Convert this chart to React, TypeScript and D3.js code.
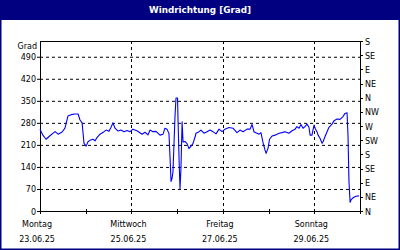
import React from "react";
import * as d3 from "d3";

const TITLE = "Windrichtung [Grad]";
const START = new Date(2025, 5, 23, 0, 0);
const END = new Date(2025, 5, 30, 0, 0);

// hours since 23.06.25 00:00
const hours = [
  0, 1.6, 3.2, 5.2, 7.9, 9.5, 11.6, 13.1, 14.7, 16.3, 18.4, 20.0, 21.0, 22.1, 23.1, 24.2,
  25.2, 26.3, 27.8, 28.9, 29.9, 31.5, 33.6, 34.7, 36.2, 37.3, 38.3, 39.4, 41.0, 42.5, 44.1,
  45.7, 47.3, 48.8, 50.9, 53.6, 55.1, 56.7, 57.8, 59.3, 60.9, 63.0, 64.6, 65.6, 66.7, 67.2,
  67.7, 68.3, 68.8, 69.3, 69.8, 70.9, 71.4, 72.2, 72.5, 73.0, 73.5, 74.0, 74.6, 75.1, 76.1,
  77.2, 78.2, 79.3, 80.3, 81.4, 81.9, 83.5, 84.5, 86.1, 87.7, 89.3, 90.8, 92.4, 94.0, 95.6,
  97.1, 99.2, 101.3, 103.4, 105.0, 106.6, 108.7, 110.3, 111.3, 112.4, 113.9, 115.0, 116.0,
  117.1, 118.1, 118.7, 119.7, 120.5, 121.8, 123.4, 125.5, 127.1, 128.6, 130.7, 132.3, 133.9,
  134.9, 136.0, 137.0, 138.1, 139.1, 140.2, 141.2, 141.8, 142.8, 143.3, 143.9, 144.4, 145.4,
  146.0, 147.0, 148.1, 148.6, 149.6, 150.7, 151.7, 153.3, 154.4, 155.9, 157.5, 159.1, 160.1,
  161.2, 161.7, 162.2, 162.8, 163.3, 164.3, 165.9, 167.5,
];
const direction = [
  260, 240, 228, 239, 252, 244, 251, 263, 302, 306, 308, 308, 289, 280, 215, 206,
  220, 225, 228, 223, 233, 244, 252, 257, 253, 266, 280, 263, 254, 257, 252,
  256, 252, 260, 255, 244, 250, 242, 257, 252, 253, 241, 244, 263, 260, 253,
  246, 166, 94, 103, 124, 304, 359, 359, 283, 166, 71, 134, 283, 219, 221,
  214, 198, 206, 214, 235, 247, 252, 257, 247, 252, 257, 252, 245, 260, 252,
  260, 265, 263, 249, 257, 252, 260, 260, 275, 251, 247, 244, 249,
  217, 194, 183, 199, 228, 238, 241, 247, 249, 252, 247, 255, 260,
  268, 263, 275, 263, 268, 276, 266, 241, 241, 257, 273, 263, 252,
  241, 231, 215, 220, 236, 252, 266, 276, 287, 292, 291, 300, 310,
  312, 241, 95, 28, 35, 42, 47, 48,
];

const leftTicks = [0, 70, 140, 210, 280, 350, 420, 490];
const rightTicks = [0, 45, 90, 135, 180, 225, 270, 315, 360, 405, 450, 495, 540];
const rightLabels = ["N", "NE", "E", "SE", "S", "SW", "W", "NW", "N", "NE", "E", "SE", "S"];
const labelDays = [0, 2, 4, 6];
const dayNames = ["Montag", "Mittwoch", "Freitag", "Sonntag"];
const dayDates = ["23.06.25", "25.06.25", "27.06.25", "29.06.25"];
const gridDays = [2, 4, 6];
const tickDays = [1, 2, 3, 4, 5, 6, 7];

const W = 400;
const H = 250;
const L = 40, R = 360, T = 41, B = 211;
const FONT = "DejaVu Sans, Verdana, sans-serif";

export default function App() {
  const x = d3.scaleTime().domain([START, END]).range([L, R]);
  const y = d3.scaleLinear().domain([0, 540]).range([B, T]);
  const dayDate = (d: number) => d3.timeDay.offset(START, d);
  const data = hours.map((h, i) => ({ t: new Date(START.getTime() + h * 3600000), v: direction[i] }));
  const line = d3
    .line<{ t: Date; v: number }>()
    .x((d) => x(d.t))
    .y((d) => y(d.v));

  return (
    <svg
      width={W}
      height={H}
      style={{ position: "absolute", left: 0, top: 0, background: "#fff" }}
      fontFamily={FONT}
    >
      <rect x={0} y={0} width={W} height={H} fill="#fff" />
      <rect x={0} y={0} width={W} height={20} fill="#000080" />
      <text x={W / 2} y={12.5} fill="#fff" fontSize={8.8} fontWeight="bold" textAnchor="middle">
        {TITLE}
      </text>
      <rect x={0.75} y={0.75} width={W - 1.5} height={H - 1.5} fill="none" stroke="#000080" strokeWidth={1.5} />

      {/* horizontal grid */}
      {leftTicks
        .filter((v) => v > 0)
        .map((v) => (
          <line key={"h" + v} x1={L} x2={R} y1={y(v) + 0.5} y2={y(v) + 0.5} stroke="#000" strokeDasharray="3,3" />
        ))}
      {/* vertical grid */}
      {gridDays.map((d) => (
        <line
          key={"v" + d}
          x1={Math.round(x(dayDate(d))) + 0.5}
          x2={Math.round(x(dayDate(d))) + 0.5}
          y1={T}
          y2={B}
          stroke="#000"
          strokeDasharray="3,3"
        />
      ))}

      {/* frame */}
      <rect x={L + 0.5} y={T + 0.5} width={R - L} height={B - T} fill="none" stroke="#000" />

      {/* left axis */}
      {leftTicks.map((v) => (
        <g key={"l" + v}>
          <line x1={L - 3} x2={L} y1={y(v) + 0.5} y2={y(v) + 0.5} stroke="#000" />
          <text x={36} y={y(v) + 3.5} fontSize={8} textAnchor="end" fill="#000">
            {v}
          </text>
        </g>
      ))}
      <text x={37} y={48.5} fontSize={8} textAnchor="end" fill="#000">
        Grad
      </text>

      {/* right axis */}
      {rightTicks.map((v, i) => (
        <g key={"r" + v}>
          <line x1={R} x2={R + 3} y1={Math.round(y(v)) + 0.5} y2={Math.round(y(v)) + 0.5} stroke="#000" />
          <text x={365} y={y(v) + 3.5} fontSize={8} fill="#000">
            {rightLabels[i]}
          </text>
        </g>
      ))}

      {/* bottom ticks */}
      {tickDays.map((d) => (
        <line
          key={"t" + d}
          x1={Math.round(x(dayDate(d))) + 0.5}
          x2={Math.round(x(dayDate(d))) + 0.5}
          y1={B - 2}
          y2={B + 3}
          stroke="#000"
        />
      ))}
      <line x1={L + 0.5} x2={L + 0.5} y1={B} y2={B + 3} stroke="#000" />

      {labelDays.map((d, i) => (
        <g key={"d" + d}>
          <text x={x(dayDate(d)) - 3} y={227} fontSize={8} textAnchor="middle" fill="#000">
            {dayNames[i]}
          </text>
          <text x={x(dayDate(d)) - 3} y={241.5} fontSize={8} textAnchor="middle" fill="#000">
            {dayDates[i]}
          </text>
        </g>
      ))}

      <path d={line(data) || ""} fill="none" stroke="#0000ff" strokeWidth={1.1} strokeLinejoin="round" />
    </svg>
  );
}
